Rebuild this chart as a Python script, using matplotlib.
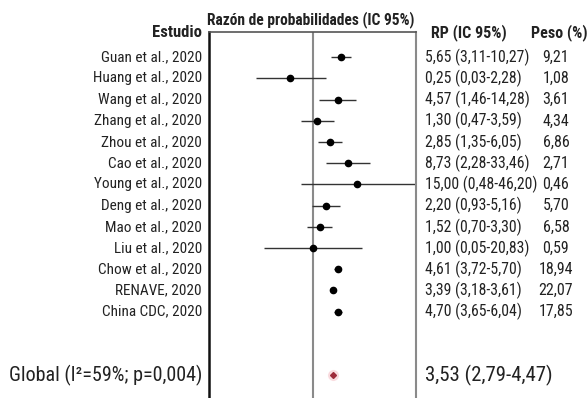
"""
Forest plot: razon de probabilidades por estudio
"""

import numpy as np
import matplotlib.pyplot as plt

# data
studies = ["Guan et al., 2020", "Huang et al., 2020", "Wang et al., 2020",
           "Zhang et al., 2020", "Zhou et al., 2020", "Cao et al., 2020",
           "Young et al., 2020", "Deng et al., 2020", "Mao et al., 2020",
           "Liu et al., 2020", "Chow et al., 2020", "RENAVE, 2020",
           "China CDC, 2020"]
rp = [5.65, 0.25, 4.57, 1.30, 2.85, 8.73, 15.00, 2.20, 1.52, 1.00, 4.61, 3.39, 4.70]
ci_lo = [3.11, 0.03, 1.46, 0.47, 1.35, 2.28, 0.48, 0.93, 0.70, 0.05, 3.72, 3.18, 3.65]
# Young's line runs to the right border in the picture
ci_hi = [10.27, 2.28, 14.28, 3.59, 6.05, 33.46, 560.0, 5.16, 3.30, 20.83, 5.70, 3.61, 6.04]
rp_text = ["5,65 (3,11-10,27)", "0,25 (0,03-2,28)", "4,57 (1,46-14,28)",
           "1,30 (0,47-3,59)", "2,85 (1,35-6,05)", "8,73 (2,28-33,46)",
           "15,00 (0,48-46,20)", "2,20 (0,93-5,16)", "1,52 (0,70-3,30)",
           "1,00 (0,05-20,83)", "4,61 (3,72-5,70)", "3,39 (3,18-3,61)",
           "4,70 (3,65-6,04)"]
peso_text = ["9,21", "1,08", "3,61", "4,34", "6,86", "2,71", "0,46", "5,70",
             "6,58", "0,59", "18,94", "22,07", "17,85"]
global_rp = 3.53
global_label = "Global (I²=59%; p=0,004)"
global_text = "3,53 (2,79-4,47)"
global_row = 15

plt.rcParams['font.family'] = ['Roboto Condensed', 'DejaVu Sans']


def main():
    fig = plt.figure(figsize=(5.88, 3.98), dpi=100)
    ax = fig.add_axes([209 / 588, 0, 207 / 588, 1 - 32 / 398])

    rows = np.arange(len(studies))
    ax.set_xscale('log')
    ax.set_xlim(0.0017, 560)
    ax.set_ylim(16.07, -1.19)

    ax.axvline(1, color='#8a8a8a', lw=1.5, zorder=1)
    ax.hlines(rows, ci_lo, ci_hi, color='#333333', lw=1.0, zorder=2)
    ax.plot(rp, rows, 'o', color='black', ms=4.5, zorder=3)
    ax.plot([global_rp], [global_row], 'o', color='#f7c6cc', ms=7, alpha=0.5, zorder=3)
    ax.plot([global_rp], [global_row], 'D', color='#9e2a3a', ms=3, zorder=4)

    ax.set_xticks([])
    ax.set_yticks([])
    ax.minorticks_off()
    ax.spines['bottom'].set_visible(False)
    ax.spines['left'].set_color('#111111')
    ax.spines['left'].set_linewidth(1.8)
    ax.spines['top'].set_color('#555555')
    ax.spines['top'].set_linewidth(1.2)
    ax.spines['right'].set_color('#8a8a8a')
    ax.spines['right'].set_linewidth(1.5)

    tr = ax.get_yaxis_transform()
    for r, name, t, p in zip(rows, studies, rp_text, peso_text):
        ax.text(-0.034, r, name, transform=tr, ha='right', va='center', fontsize=11, color='#222222')
        ax.text(1.043, r, t, transform=tr, ha='left', va='center', fontsize=11.3, color='#222222')
        ax.text(1.676, r, p, transform=tr, ha='center', va='center', fontsize=11.5, color='#222222')

    ax.text(-0.034, global_row, global_label, transform=tr, ha='right', va='center',
            fontsize=14.5, color='#222222')
    ax.text(1.043, global_row, global_text, transform=tr, ha='left', va='center',
            fontsize=15, color='#222222')

    # headers
    ax.text(-0.034, -1.15, "Estudio", transform=tr, ha='right', va='center',
            fontsize=12, fontweight='bold', color='#222222')
    ax.text(0.49, -1.76, "Razón de probabilidades (IC 95%)", transform=tr, ha='center',
            va='center', fontsize=11.2, fontweight='bold', color='#222222')
    ax.text(1.072, -1.15, "RP (IC 95%)", transform=tr, ha='left', va='center',
            fontsize=11.5, fontweight='bold', color='#222222')
    ax.text(1.69, -1.15, "Peso (%)", transform=tr, ha='center', va='center',
            fontsize=11.5, fontweight='bold', color='#222222')

    fig.savefig('out.png', dpi=100)


if __name__ == "__main__":
    main()
